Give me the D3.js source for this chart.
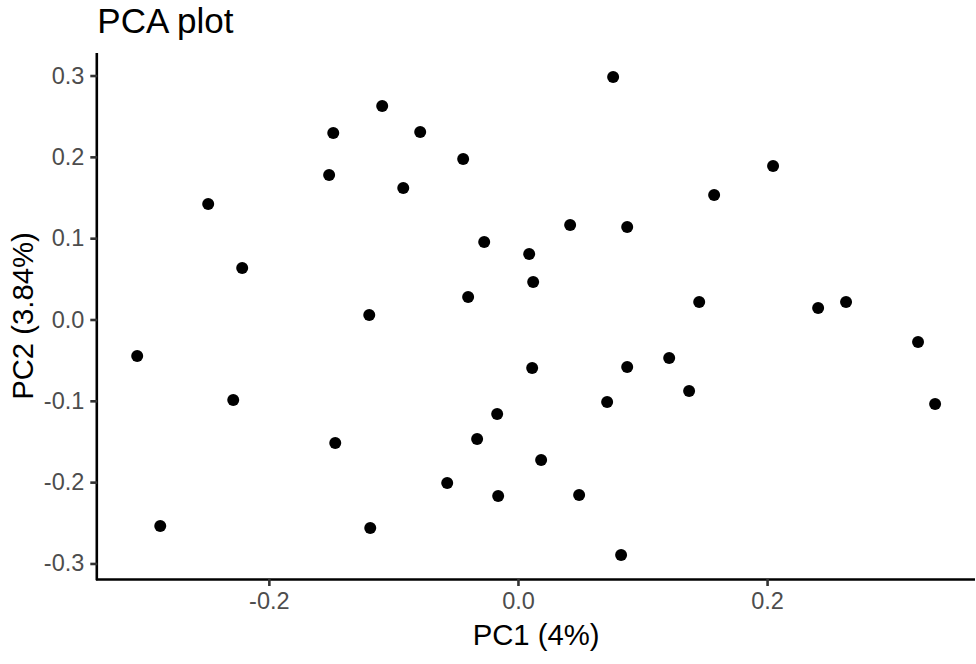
<!DOCTYPE html>
<html>
<head>
<meta charset="utf-8">
<script src="https://cdn.jsdelivr.net/npm/d3@7"></script>
<style>
  html, body { margin: 0; padding: 0; background: #fff; }
  svg { display: block; font-family: "Liberation Sans", Arial, sans-serif; }
</style>
</head>
<body>
<svg id="chart" width="976" height="664"></svg>
<script>
const pc1 = [0.0764, -0.1090, -0.1483, -0.0785, -0.0440, -0.1516, -0.0921, 0.2048, 0.1575, -0.2487,
             0.0419, 0.0877, -0.0271, 0.0090, -0.2214, 0.0122, -0.0400, 0.1455, 0.2410, 0.2634,
             -0.1194, 0.3212, -0.3057, 0.1214, 0.0114, 0.0877, 0.1374, 0.0716, -0.2286, 0.3349,
             -0.0167, -0.0328, -0.1467, 0.0186, -0.0568, -0.0159, 0.0491, -0.2872, -0.1186, 0.0828];
const pc2 = [0.2983, 0.2626, 0.2294, 0.2306, 0.1974, 0.1777, 0.1617, 0.1888, 0.1531, 0.1421,
             0.1162, 0.1138, 0.0953, 0.0806, 0.0633, 0.0461, 0.0277, 0.0215, 0.0141, 0.0215,
             0.0055, -0.0277, -0.0449, -0.0474, -0.0597, -0.0584, -0.0879, -0.1015, -0.0990, -0.1039,
             -0.1162, -0.1470, -0.1519, -0.1728, -0.2011, -0.2171, -0.2159, -0.2540, -0.2565, -0.2897];
const xTicks = [-0.2, 0.0, 0.2];
const yTicks = [-0.3, -0.2, -0.1, 0.0, 0.1, 0.2, 0.3];
const titleText = "PCA plot";
const xLabel = "PC1 (4%)";
const yLabel = "PC2 (3.84%)";

(function () {
const svg = d3.select("#chart");
const pL = 97.3, pR = 975, pT = 53, pB = 579;

function expand(ext) { const d = (ext[1] - ext[0]) * 0.05; return [ext[0] - d, ext[1] + d]; }
const x = d3.scaleLinear().domain(expand(d3.extent(pc1))).range([pL, pR]);
const y = d3.scaleLinear().domain(expand(d3.extent(pc2))).range([pB, pT]);

const fmt = v => d3.format(".1f")(v).replace("\u2212", "-");
const tickColor = "#333333", labelColor = "#4D4D4D";

// X axis
const xAxis = svg.append("g").attr("transform", `translate(0,${pB})`)
  .call(d3.axisBottom(x).tickValues(xTicks).tickFormat(fmt).tickSize(7).tickPadding(6).tickSizeOuter(0));
xAxis.select(".domain").attr("stroke", "#000").attr("stroke-width", 2.6)
  .attr("d", `M${pL - 1.3},0.5H${pR}`);
xAxis.selectAll(".tick line").attr("stroke", tickColor).attr("stroke-width", 2.6);
xAxis.selectAll(".tick text").attr("fill", labelColor).attr("font-size", "23.5px")
  .attr("font-family", "Liberation Sans, Arial, sans-serif").attr("dy", "0.71em");

// Y axis
const yAxis = svg.append("g").attr("transform", `translate(${pL},0)`)
  .call(d3.axisLeft(y).tickValues(yTicks).tickFormat(fmt).tickSize(7).tickPadding(6).tickSizeOuter(0));
yAxis.select(".domain").attr("stroke", "#000").attr("stroke-width", 2.6)
  .attr("d", `M-0.5,${pT}V${pB + 1.3}`);
yAxis.selectAll(".tick line").attr("stroke", tickColor).attr("stroke-width", 2.6);
yAxis.selectAll(".tick text").attr("fill", labelColor).attr("font-size", "23.5px")
  .attr("font-family", "Liberation Sans, Arial, sans-serif");

// Points
svg.append("g").selectAll("circle")
  .data(pc1.map((v, i) => [v, pc2[i]]))
  .join("circle")
  .attr("cx", d => x(d[0]))
  .attr("cy", d => y(d[1]))
  .attr("r", 6)
  .attr("fill", "#000");

// Title
svg.append("text").attr("x", pL).attr("y", 32.5)
  .attr("font-size", "35px").attr("fill", "#000").text(titleText);

// Axis titles
svg.append("text").attr("x", (pL + pR) / 2).attr("y", 645)
  .attr("text-anchor", "middle").attr("font-size", "29.3px").attr("fill", "#000").text(xLabel);
svg.append("text").attr("transform", `translate(33,${(pT + pB) / 2}) rotate(-90)`)
  .attr("text-anchor", "middle").attr("font-size", "29.3px").attr("fill", "#000").text(yLabel);
})();
</script>
</body>
</html>
